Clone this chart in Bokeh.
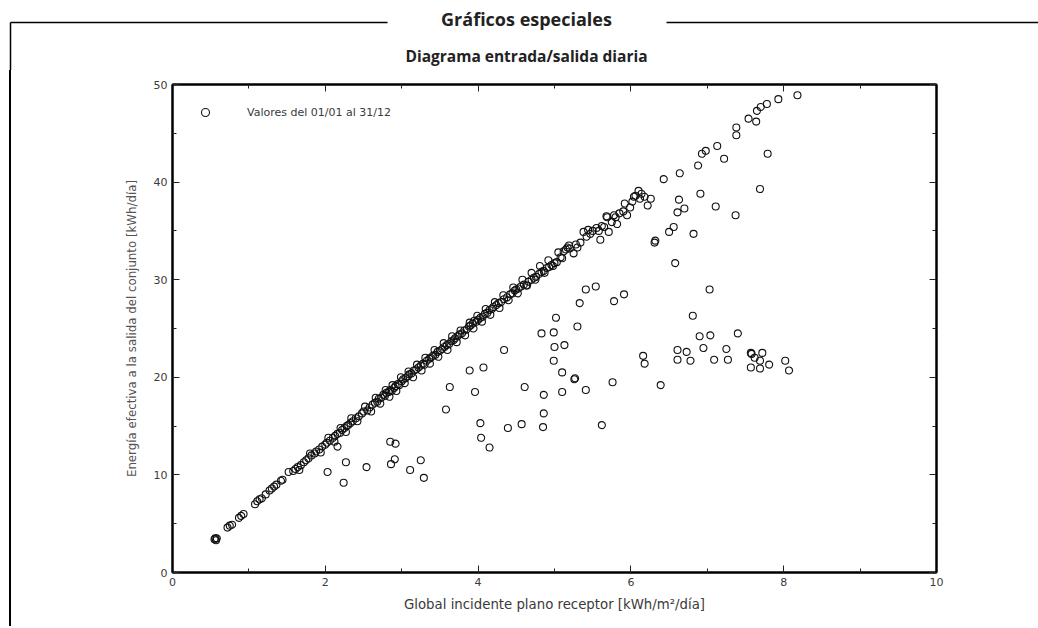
from bokeh.plotting import figure
from bokeh.models import (Range1d, LinearAxis, FixedTicker, Legend, LegendItem, ColumnDataSource,
                          Div)
from bokeh.layouts import column, row
from bokeh.core.properties import value
from bokeh.embed import file_html
from bokeh.resources import INLINE

# ---------------- data ----------------
header_text = "Gráficos especiales"
title_text = "Diagrama entrada/salida diaria"
x_label = "Global incidente plano receptor [kWh/m²/día]"
y_label = "Energía efectiva a la salida del conjunto [kWh/día]"
legend_label = "Valores del 01/01 al 31/12"

x_ticks = [0, 2, 4, 6, 8, 10]
x_minor = [1, 3, 5, 7, 9]
y_ticks = [0, 10, 20, 30, 40, 50]
y_minor = [5, 15, 25, 35, 45]

# days on the main line
irr_line = [0.55, 0.56, 0.57, 0.58, 0.72, 0.75, 0.78, 0.87, 0.90, 0.93, 1.08, 1.11, 1.14, 1.17,
            1.22, 1.27, 1.30, 1.33, 1.36, 1.42, 1.44,
            1.58, 1.61, 1.64, 1.68, 1.72, 1.75, 1.78, 1.82, 1.86, 1.88, 1.92, 1.96, 2.00, 2.02,
            2.06, 2.10, 2.13, 2.16, 2.19, 2.22, 2.25, 2.28, 2.30, 2.33, 2.36, 2.40, 2.44, 2.48,
            2.50, 2.55,
            2.58, 2.62, 2.65, 2.68, 2.70, 2.73, 2.76, 2.78, 2.80, 2.83, 2.85, 2.87, 2.90, 2.92,
            2.95, 2.97, 3.00, 3.02, 3.05, 3.08, 3.10, 3.13, 3.16, 3.19, 3.22, 3.25, 3.28, 3.30,
            3.33, 3.36, 3.38, 3.41, 3.44, 3.47, 3.50,
            3.53, 3.56, 3.59, 3.62, 3.65, 3.68, 3.70, 3.73, 3.76, 3.79, 3.82, 3.85, 3.88, 3.90,
            3.93, 3.95, 3.98, 4.00, 4.03, 4.06, 4.09, 4.12, 4.15, 4.18, 4.20, 4.24, 4.27, 4.30,
            4.34, 4.38, 4.42, 4.45, 4.48, 4.50,
            4.53, 4.56, 4.60, 4.63, 4.66, 4.70, 4.73, 4.76, 4.80, 4.83, 4.86, 4.90, 4.93, 4.96,
            5.00, 5.03, 5.08, 5.12, 5.15, 5.17, 5.20, 5.25, 5.28, 5.34, 5.38, 5.42, 5.47, 5.50,
            5.55, 5.60, 5.62, 5.65, 5.69, 5.71, 5.75, 5.78, 5.82, 5.85, 5.90, 5.95, 5.99, 6.02,
            6.06, 6.10, 6.14, 6.18, 6.22, 6.26,
            6.43, 6.64, 6.88, 6.93, 6.98, 7.13, 7.22, 7.38, 7.38, 7.54, 7.64, 7.65, 7.70, 7.78,
            7.93, 8.18]
energy_line = [3.4, 3.5, 3.3, 3.5, 4.6, 4.8, 4.9, 5.6, 5.8, 6.0, 7.0, 7.3, 7.5, 7.6,
               8.0, 8.4, 8.6, 8.8, 9.0, 9.4, 9.5,
               10.4, 10.6, 10.8, 11.0, 11.3, 11.5, 11.7, 12.0, 12.2, 12.4, 12.6, 12.9, 13.1, 13.3,
               13.5, 13.8, 14.0, 14.2, 14.3, 14.6, 14.8, 15.0, 15.1, 15.3, 15.5, 15.8, 16.0, 16.3,
               16.5, 16.6,
               16.9, 17.2, 17.4, 17.5, 17.8, 17.9, 18.2, 18.1, 18.4, 18.5, 18.7, 18.6, 18.9, 19.1,
               19.3, 19.2, 19.6, 19.8, 19.9, 20.1, 20.3, 20.4, 20.7, 20.8, 21.0, 21.2, 21.4, 21.3,
               21.7, 21.9, 22.0, 22.2, 22.3, 22.6, 22.7,
               22.9, 23.1, 23.3, 23.4, 23.7, 23.8, 24.0, 24.2, 24.4, 24.5, 24.8, 24.9, 25.2, 25.3,
               25.5, 25.8, 25.7, 25.9, 26.1, 26.2, 26.5, 26.6, 26.9, 27.0, 27.2, 27.4, 27.6, 27.7,
               28.0, 28.2, 28.5, 28.6, 28.9, 29.0,
               29.1, 29.3, 29.5, 29.4, 29.8, 30.0, 30.2, 30.3, 30.6, 30.8, 30.9, 31.2, 31.3, 31.5,
               31.7, 31.8, 32.3, 32.9, 33.1, 33.3, 33.2, 32.7, 33.6, 33.8, 34.9, 34.4, 34.7, 35.0,
               35.3, 34.1, 35.5, 35.4, 36.4, 34.9, 35.9, 36.6, 35.7, 36.8, 37.0, 36.6, 37.4, 38.0,
               38.6, 39.1, 38.8, 38.5, 37.6, 38.3,
               40.3, 40.9, 41.7, 42.9, 43.2, 43.7, 42.4, 44.8, 45.6, 46.5, 46.2, 47.3, 47.7, 48.0,
               48.5, 48.9]

# more days inside the thick part of the band
irr_band = [1.52, 1.66, 1.80, 1.94, 2.04, 2.12, 2.20, 2.27, 2.34, 2.42, 2.52, 2.60, 2.66, 2.72,
            2.79, 2.84, 2.88, 2.93, 2.99, 3.04, 3.09, 3.15, 3.20, 3.26, 3.31, 3.37, 3.43, 3.48,
            3.55, 3.60, 3.66, 3.72, 3.77, 3.83, 3.89, 3.94, 3.99, 4.05, 4.10, 4.16, 4.22, 4.28,
            4.33, 4.40, 4.46, 4.52, 4.58, 4.64, 4.70, 4.75, 4.81, 4.87, 4.92, 4.98, 5.05, 5.10,
            5.19, 5.30, 5.44, 5.58, 5.68, 5.80, 5.92, 6.04, 6.12]
energy_band = [10.3, 10.5, 12.2, 12.3, 13.8, 13.4, 14.8, 14.4, 15.8, 15.5, 17.0, 16.5, 17.9, 17.3,
               18.7, 18.0, 19.2, 18.6, 20.0, 19.4, 20.6, 20.0, 21.3, 20.7, 22.0, 21.4, 22.8, 22.1,
               23.5, 22.8, 24.2, 23.6, 24.8, 24.3, 25.6, 25.0, 26.3, 25.7, 27.0, 26.4, 27.7, 27.1,
               28.4, 27.9, 29.2, 28.6, 30.0, 29.4, 30.7, 30.0, 31.4, 30.7, 32.0, 31.4, 32.8, 32.2,
               33.5, 33.3, 35.1, 35.0, 36.5, 36.4, 37.8, 38.5, 38.3]

# days that fall below the main line
irr_low = [2.16, 2.27, 2.03, 2.24, 2.54, 2.91, 2.86, 3.11, 3.25, 3.29, 2.85, 2.92,
           3.58, 3.63, 3.89, 4.07, 3.96, 4.03, 4.04, 4.15, 4.34, 4.39, 4.57, 4.61, 4.86, 4.86,
           4.85, 4.99, 5.00, 5.13, 4.83, 4.99, 5.02, 5.30, 5.33, 5.10, 5.10, 5.26, 5.27, 5.41,
           5.62, 5.76, 5.41, 5.54, 5.78, 5.91, 6.16, 6.18, 6.39, 6.31, 6.32, 6.50, 6.56, 6.58,
           6.61, 6.63, 6.70, 6.82, 6.91, 7.11, 7.37, 7.69, 7.79, 7.03, 6.81, 6.90, 7.04, 7.40,
           6.61, 6.73, 6.95, 7.25, 6.61, 6.78, 7.09, 7.27, 7.57, 7.58, 7.72, 7.62, 7.69, 7.57,
           7.69, 7.81, 8.02, 8.07]
energy_low = [12.9, 11.3, 10.3, 9.2, 10.8, 11.6, 11.1, 10.5, 11.5, 9.7, 13.4, 13.2,
              16.7, 19.0, 20.7, 21.0, 18.5, 15.3, 13.8, 12.8, 22.8, 14.8, 15.2, 19.0, 18.2, 16.3,
              14.9, 21.7, 23.1, 23.3, 24.5, 24.6, 26.1, 25.2, 27.6, 20.5, 18.5, 19.8, 19.9, 18.7,
              15.1, 19.5, 29.0, 29.3, 27.8, 28.5, 22.2, 21.4, 19.2, 33.8, 34.0, 34.9, 35.4, 31.7,
              36.9, 38.2, 37.3, 34.7, 38.8, 37.5, 36.6, 39.3, 42.9, 29.0, 26.3, 24.2, 24.3, 24.5,
              22.8, 22.6, 23.0, 22.9, 21.8, 21.7, 21.8, 21.8, 22.5, 22.4, 22.5, 22.0, 21.7, 21.0,
              20.9, 21.3, 21.7, 20.7]

# ---------------- layout sizes ----------------
W = 1038          # total width
HH = 70           # header strip height
SW = 12           # left strip width (holds the report box line)
MW = W - SW       # main figure width
MH = 556          # main figure height
BOX_X = 10        # x of the report box's left line
LINE_Y = 22       # y of the header rule

FONT = "DejaVu Sans"
TXT = "#3a3a3a"

# ---------------- header strip ----------------
hdr = figure(width=W, height=HH, output_backend="svg", toolbar_location=None,
             x_range=Range1d(0, W), y_range=Range1d(HH, 0), min_border=0,
             x_axis_location=None, y_axis_location=None)
hdr.outline_line_color = None
hdr.xgrid.visible = False
hdr.ygrid.visible = False
hdr.grid.grid_line_color = None
hdr.segment(x0=[BOX_X, 666, BOX_X], y0=[LINE_Y, LINE_Y, LINE_Y],
            x1=[387, W, BOX_X], y1=[LINE_Y, LINE_Y, HH],
            line_color="black", line_width=1.5)
hdr.text(x=[526], y=[18], text=[header_text], text_align="center", text_baseline="middle",
         text_font=value("Open Sans"), text_font_style="bold", text_font_size="18px",
         text_color="#222222")
hdr.text(x=[526], y=[55], text=[title_text], text_align="center", text_baseline="middle",
         text_font=value("Open Sans"), text_font_style="bold", text_font_size="15.5px",
         text_color="#222222")

# ---------------- left strip: the report box's left line ----------------
strip = Div(text=('<div style="margin:0 0 0 %dpx;padding:0;width:1.5px;height:%dpx;'
                  'background:#000"></div>') % (BOX_X - 1, MH),
            width=SW, height=MH, margin=0)

# ---------------- main chart ----------------
FL, FR, FT, FB = 172 - SW, 936 - SW, 84 - HH, 572 - HH   # frame edges inside main figure
p = figure(width=MW, height=MH, output_backend="svg", toolbar_location=None,
           x_range=Range1d(0, 10), y_range=Range1d(0, 50),
           x_axis_location=None, y_axis_location=None,
           min_border_left=FL, min_border_right=MW - FR, min_border_top=FT,
           min_border_bottom=MH - FB,
           background_fill_color="white", border_fill_color="white")
p.xgrid.visible = False
p.ygrid.visible = False
p.outline_line_color = "black"
p.outline_line_width = 2


def make_axis(ticks, minor, labels=True, **kw):
    ax = LinearAxis(ticker=FixedTicker(ticks=ticks, minor_ticks=minor), **kw)
    ax.axis_line_color = "black"
    ax.axis_line_width = 2
    ax.major_tick_in = 7
    ax.major_tick_out = 0
    ax.minor_tick_in = 4
    ax.minor_tick_out = 0
    ax.major_tick_line_color = "#222222"
    ax.minor_tick_line_color = "#222222"
    ax.major_label_text_font = FONT
    ax.major_label_text_font_size = "11px"
    ax.major_label_text_color = TXT
    ax.major_label_standoff = 5
    if not labels:
        ax.major_label_text_font_size = "0px"
        ax.major_label_text_alpha = 0
        ax.major_label_standoff = 0
    return ax


xb = make_axis(x_ticks, x_minor, axis_label=x_label)
xb.axis_label_text_font = FONT
xb.axis_label_text_font_size = "13.3px"
xb.axis_label_text_font_style = "normal"
xb.axis_label_text_color = TXT
xb.axis_label_standoff = 8
p.add_layout(xb, "below")

yl = make_axis(y_ticks, y_minor, axis_label=y_label)
yl.axis_label_text_font = FONT
yl.axis_label_text_font_size = "11.8px"
yl.axis_label_text_font_style = "normal"
yl.axis_label_text_color = "#555555"
yl.axis_label_standoff = 12
p.add_layout(yl, "left")

p.add_layout(make_axis(x_ticks, x_minor, labels=False), "above")
p.add_layout(make_axis(y_ticks, y_minor, labels=False), "right")

src = ColumnDataSource(dict(x=irr_line + irr_band + irr_low,
                            y=energy_line + energy_band + energy_low))
r = p.scatter("x", "y", source=src, marker="circle", size=7,
              fill_color=None, line_color="#111111", line_width=1.1)

leg = Legend(items=[LegendItem(label=legend_label, renderers=[r])],
             location="top_left", margin=18, padding=0, glyph_width=30, glyph_height=20,
             label_standoff=27, label_text_font=FONT, label_text_font_size="11px",
             label_text_color=TXT, border_line_color=None, background_fill_alpha=0)
p.add_layout(leg)

layout = column(hdr, row(strip, p, spacing=0), spacing=0)
open("out.html", "w").write(file_html(layout, INLINE))
